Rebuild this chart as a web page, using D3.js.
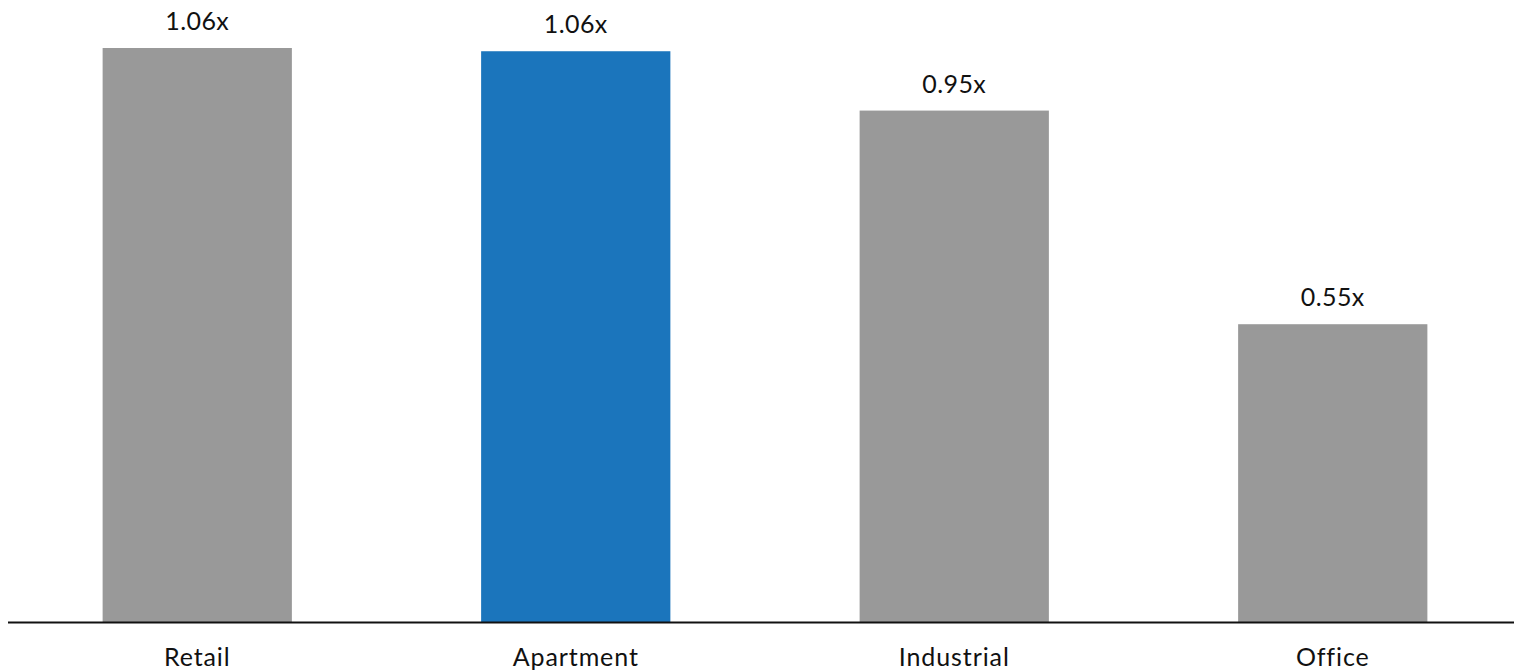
<!DOCTYPE html>
<html>
<head>
<meta charset="utf-8">
<script src="https://cdn.jsdelivr.net/npm/d3@7"></script>
<style>
  body { margin: 0; background: #fff; }
  .val { font-family: Lato, "Noto Sans", sans-serif; font-size: 25px; fill: #111; letter-spacing: 0.4px; }
  .cat text { font-family: Lato, "Noto Sans", sans-serif; font-size: 25px; fill: #111; letter-spacing: 0.9px; }
</style>
</head>
<body>
<svg id="chart" width="1514" height="672"></svg>
<script>
// data
var categories = ["Retail", "Apartment", "Industrial", "Office"];
var values = [1.064, 1.058, 0.948, 0.552];
var labels = ["1.06x", "1.06x", "0.95x", "0.55x"];
var highlight = "Apartment";

var svg = d3.select("#chart");
var baseY = 622;

var x = d3.scaleBand()
    .domain(categories)
    .range([8, 1522])
    .paddingInner(0.5)
    .paddingOuter(0.25);

var y = d3.scaleLinear()
    .domain([0, 1.064])
    .range([baseY, 48]);

svg.selectAll(".bar")
    .data(categories)
    .enter()
    .append("rect")
    .attr("class", "bar")
    .attr("x", function(d){ return x(d); })
    .attr("width", x.bandwidth())
    .attr("y", function(d, i){ return y(values[i]); })
    .attr("height", function(d, i){ return baseY - y(values[i]); })
    .attr("fill", function(d){ return d == highlight ? "#1b75bc" : "#999999"; });

svg.selectAll(".val")
    .data(categories)
    .enter()
    .append("text")
    .attr("class", "val")
    .attr("text-anchor", "middle")
    .attr("x", function(d){ return x(d) + x.bandwidth() / 2; })
    .attr("y", function(d, i){ return y(values[i]) - 18; })
    .text(function(d, i){ return labels[i]; });

// category axis along the bottom
var axis = d3.axisBottom(x).tickSize(0).tickPadding(26);
var g = svg.append("g")
    .attr("class", "cat")
    .attr("transform", "translate(0," + baseY + ")")
    .call(axis);
g.select(".domain").remove();
g.selectAll("text").attr("dy", "0.71em");

svg.append("line")
    .attr("x1", 8).attr("x2", 1514)
    .attr("y1", baseY + 0.5).attr("y2", baseY + 0.5)
    .attr("stroke", "#111")
    .attr("stroke-width", 2);
</script>
</body>
</html>
